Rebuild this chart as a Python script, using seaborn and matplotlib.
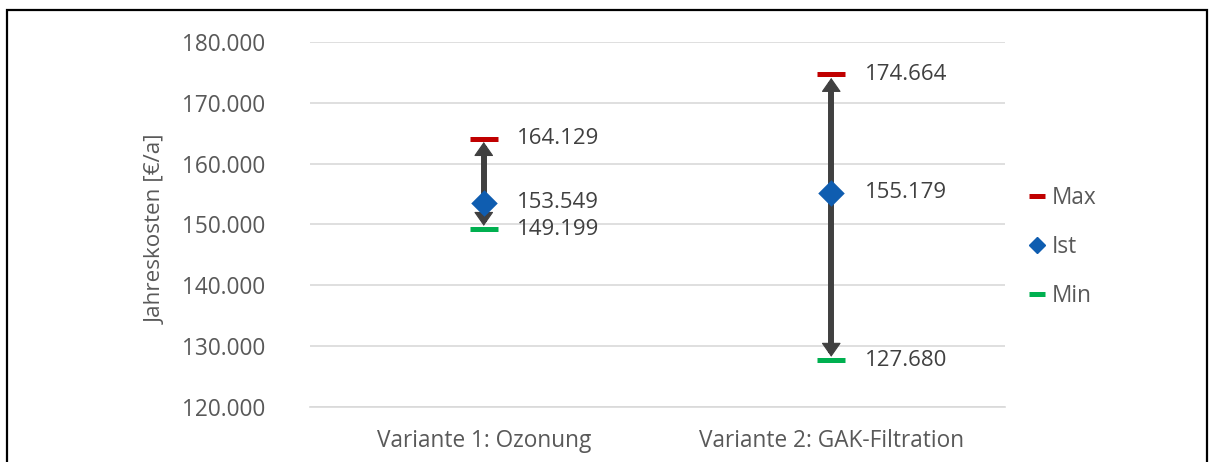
import matplotlib
matplotlib.use("Agg")
import matplotlib.pyplot as plt
from matplotlib.lines import Line2D
from matplotlib.patches import Rectangle
from matplotlib.ticker import FuncFormatter
import seaborn as sns
import pandas as pd

# Annual cost per treatment variant
categories = ["Variante 1: Ozonung", "Variante 2: GAK-Filtration"]
max_values = [164129, 174664]
ist_values = [153549, 155179]
min_values = [149199, 127680]
y_ticks = [120000, 130000, 140000, 150000, 160000, 170000, 180000]

sns.set_theme(style="whitegrid")
plt.rcParams["font.family"] = ["Open Sans", "DejaVu Sans"]

TEXT = "#595959"
LABEL = "#404040"
RED = "#C00000"
BLUE = "#0F5DB0"
GREEN = "#00B050"
ARROW = "#404040"
FS = 16.3

fig = plt.figure(figsize=(12.14, 4.62), dpi=100)
ax = fig.add_axes([310 / 1214, 1 - 407 / 462, 695 / 1214, 365 / 462])

pos = list(range(len(categories)))
df = pd.DataFrame({"pos": pos, "Max": max_values, "Ist": ist_values, "Min": min_values})

# range arrows from min to max: thick shaft plus filled heads
head_gap = 1200
ax.vlines(pos, [v + head_gap for v in min_values], [v - head_gap for v in max_values],
          color=ARROW, linewidth=4.3, zorder=2)
for x, lo, hi in zip(pos, min_values, max_values):
    ax.annotate("", xy=(x, hi), xytext=(x, lo),
                arrowprops=dict(arrowstyle="<|-|>,head_length=0.5,head_width=0.35",
                                lw=0.8, color=ARROW, shrinkA=2.5, shrinkB=2.5,
                                mutation_scale=18),
                zorder=2)

sns.scatterplot(data=df, x="pos", y="Max", marker="_", s=19.5 ** 2,
                linewidth=3.6, color=RED, ax=ax, zorder=3)
sns.scatterplot(data=df, x="pos", y="Min", marker="_", s=19.5 ** 2,
                linewidth=3.6, color=GREEN, ax=ax, zorder=3)
sns.scatterplot(data=df, x="pos", y="Ist", marker="D", s=13.5 ** 2,
                linewidth=0, color=BLUE, ax=ax, zorder=4)


def de_fmt(v):
    return f"{v:,.0f}".replace(",", ".")


for x in pos:
    for v in (max_values[x], ist_values[x], min_values[x]):
        ax.annotate(de_fmt(v), xy=(x, v), xytext=(24, 0),
                    textcoords="offset points", ha="left", va="center",
                    fontsize=16, color=LABEL)

ax.set_xlim(-0.5, 1.5)
ax.set_ylim(120000, 180000)
ax.set_yticks(y_ticks)
ax.yaxis.set_major_formatter(FuncFormatter(lambda v, p: de_fmt(v)))
ax.set_xticks(pos)
ax.set_xticklabels(categories)
ax.tick_params(axis="both", length=0, labelsize=FS, labelcolor=TEXT)
ax.tick_params(axis="y", pad=32)
ax.tick_params(axis="x", pad=16)
ax.grid(axis="y", color="#D9D9D9", linewidth=1.2)
ax.grid(axis="x", visible=False)
for side in ("left", "right", "top"):
    ax.spines[side].set_visible(False)
ax.spines["bottom"].set_color("#D9D9D9")
ax.spines["bottom"].set_linewidth(1.2)
ax.set_facecolor("white")
ax.set_xlabel("")
ax.set_ylabel("Jahreskosten [€/a]", fontsize=16.2, color=TEXT)
ax.yaxis.set_label_coords(-0.206, 0.487)

handles = [
    Line2D([], [], marker="_", linestyle="none", color=RED, markersize=12, markeredgewidth=3.6),
    Line2D([], [], marker="D", linestyle="none", color=BLUE, markersize=8),
    Line2D([], [], marker="_", linestyle="none", color=GREEN, markersize=12, markeredgewidth=3.6),
]
leg = fig.legend(handles, ["Max", "Ist", "Min"], loc="center left",
                 bbox_to_anchor=(1019 / 1214, 1 - 247 / 462), frameon=False,
                 fontsize=FS, labelspacing=1.12, handlelength=0.8,
                 handletextpad=0.25, borderaxespad=0)
for t in leg.get_texts():
    t.set_color(TEXT)

# outer frame of the chart
fig.add_artist(Rectangle((7 / 1214, -0.1), 1200 / 1214, 1.1 - 10 / 462,
                         transform=fig.transFigure, fill=False,
                         edgecolor="black", linewidth=1.6, clip_on=False))

fig.savefig("out.png", dpi=100, facecolor="white")
